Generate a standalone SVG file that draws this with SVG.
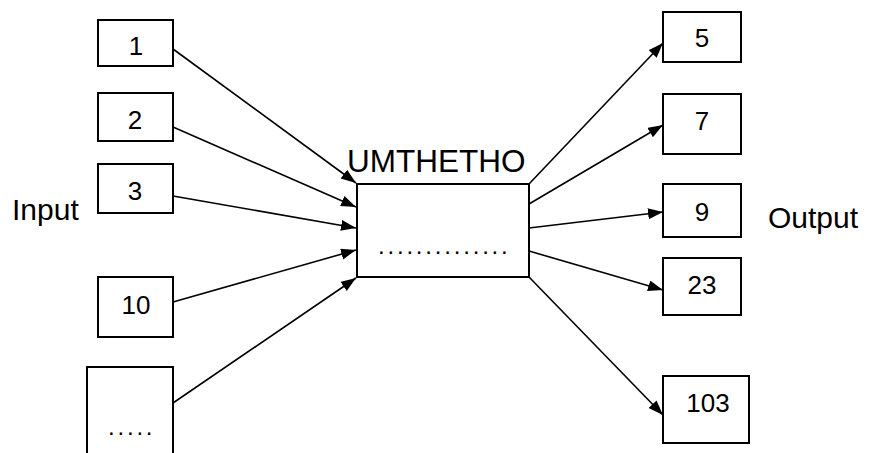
<svg xmlns="http://www.w3.org/2000/svg" width="870" height="453" viewBox="0 0 870 453">
<style>
.box{fill:#fff;stroke:#000;stroke-width:2}
.t{font-family:"Liberation Sans",Arial,sans-serif;fill:#000}
.d{font-size:26px;text-anchor:middle}
.lbl{font-size:30px}
.dots{font-size:24px;letter-spacing:2.8px}
.c{stroke:#000;stroke-width:1.6;fill:none;marker-end:url(#ah)}
</style>
<defs>
<marker id="ah" markerUnits="userSpaceOnUse" markerWidth="16" markerHeight="12" refX="15" refY="5.5" orient="auto">
<path d="M0,0 L15,5.5 L0,11 z" fill="#000"/>
</marker>
</defs>
<rect width="870" height="453" fill="#fff"/>
<g id="connectors">
<line class="c" x1="173" y1="49" x2="356" y2="183"/>
<line class="c" x1="173" y1="127" x2="356" y2="207"/>
<line class="c" x1="173" y1="196" x2="356" y2="228"/>
<line class="c" x1="173" y1="302" x2="356" y2="250"/>
<line class="c" x1="173" y1="403" x2="356" y2="278"/>
<line class="c" x1="529" y1="184" x2="663" y2="43"/>
<line class="c" x1="529" y1="204" x2="663" y2="125"/>
<line class="c" x1="529" y1="228" x2="663" y2="212"/>
<line class="c" x1="529" y1="251" x2="663" y2="290"/>
<line class="c" x1="529" y1="277" x2="663" y2="415"/>
</g>
<g id="in1"><rect class="box" x="98" y="20" width="75" height="46"/><text class="t d" x="136" y="55">1</text></g>
<g id="in2"><rect class="box" x="98" y="93" width="75" height="48"/><text class="t d" x="135" y="129">2</text></g>
<g id="in3"><rect class="box" x="98" y="164" width="75" height="49"/><text class="t d" x="135" y="200">3</text></g>
<g id="in10"><rect class="box" x="98" y="277" width="75" height="60"/><text class="t d" x="136" y="314">10</text></g>
<g id="inDots"><rect class="box" x="87" y="367" width="86" height="100"/><text class="t dots" x="108" y="434.5">.....</text></g>
<g id="center"><rect class="box" x="357" y="184" width="172" height="93"/><text class="t dots" x="378" y="253.5">..............</text></g>
<g id="umthetho"><text class="t" x="347" y="172" font-size="31.5">UMTHETHO</text></g>
<g id="input"><text class="t lbl" x="12" y="220">Input</text></g>
<g id="output"><text class="t lbl" x="768" y="228">Output</text></g>
<g id="out5"><rect class="box" x="663" y="12" width="78" height="50"/><text class="t d" x="702" y="47">5</text></g>
<g id="out7"><rect class="box" x="663" y="94" width="78" height="60"/><text class="t d" x="702" y="130">7</text></g>
<g id="out9"><rect class="box" x="663" y="184" width="78" height="53"/><text class="t d" x="702" y="220.5">9</text></g>
<g id="out23"><rect class="box" x="663" y="258" width="78" height="57"/><text class="t d" x="702" y="294">23</text></g>
<g id="out103"><rect class="box" x="663" y="376" width="86" height="67"/><text class="t d" x="708" y="412">103</text></g>
</svg>
